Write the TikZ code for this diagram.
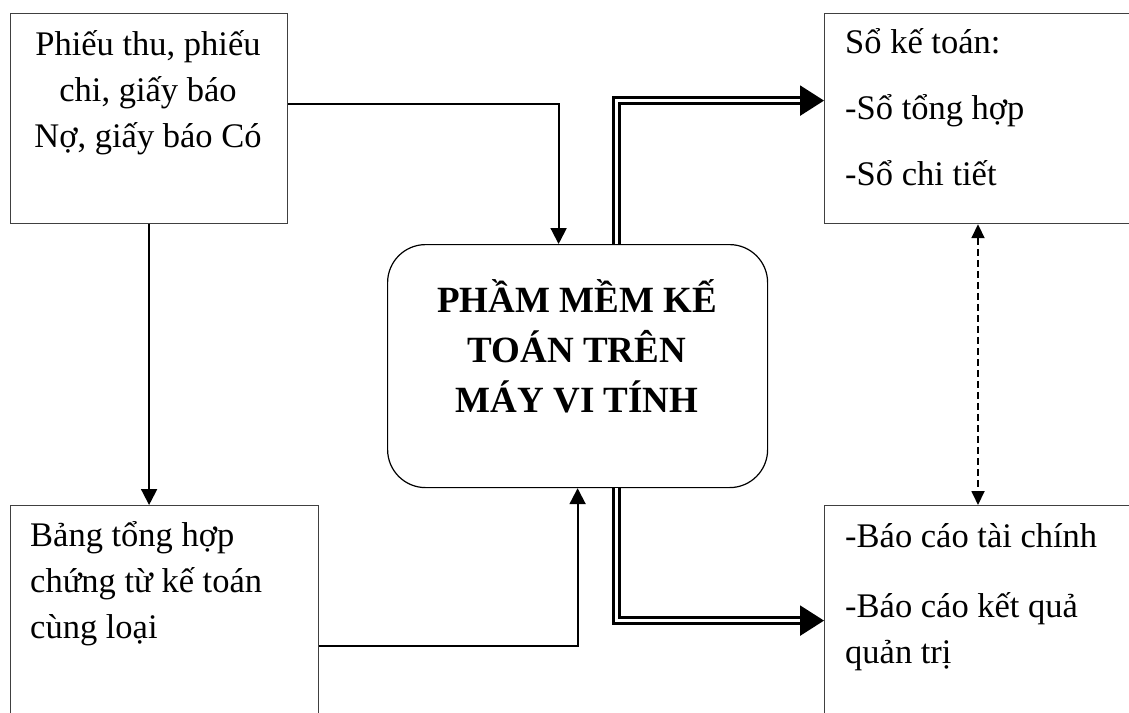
\documentclass[tikz,border=0pt]{standalone}
\usepackage{fontspec}
\setmainfont{Liberation Serif}
\usetikzlibrary{arrows.meta, positioning, calc}

\tikzset{
  box/.style={draw=black!75, line width=1.2pt, inner sep=0pt},
  txt/.style={font=\fontsize{34.5}{46}\selectfont, inner sep=0pt, align=left},
  flow/.style={line width=2pt, -{Triangle[length=16pt,width=16pt]}},
  bigflow/.style={double, double distance=3.5pt, line width=2.5pt, -{Triangle[length=24pt,width=30pt]}},
  link/.style={line width=1.8pt, dash pattern=on 7pt off 4pt, {Triangle[length=14pt,width=13pt]}-{Triangle[length=14pt,width=13pt]}}
}

\begin{document}
\begin{tikzpicture}[x=1pt,y=-1pt]
  \clip (0,0) rectangle (1129,712);

  % Input boxes
  \node[box, anchor=north west, minimum width=277pt, minimum height=210pt] (docs) at (10,13) {};
  \node[box, anchor=north west, minimum width=308pt, minimum height=230pt] (summary) at (10,505) {};

  % Software in the middle
  \node[box, draw=black, rounded corners=38pt, minimum width=380pt, minimum height=243pt, anchor=north west] (soft) at (387,244) {};

  % Output boxes
  \node[box, anchor=north west, minimum width=320pt, minimum height=210pt] (ledger) at (824,13) {};
  \node[box, anchor=north west, minimum width=320pt, minimum height=230pt] (reports) at (824,505) {};

  % Texts (anchored on the baseline of the last line)
  \node[txt, align=center, anchor=base] (docstxt) at (148,147) {Phiếu thu, phiếu\\chi, giấy báo\\Nợ, giấy báo Có};
  \node[txt, anchor=base west] (sumtxt) at (30,638) {Bảng tổng hợp\\chứng từ kế toán\\cùng loại};
  \node[txt, font=\fontsize{37}{50}\selectfont\bfseries, align=center, anchor=base] (softtxt) at (577,412) {PHẦM MỀM KẾ\\TOÁN TRÊN\\MÁY VI TÍNH};
  \node[txt, font=\fontsize{34.5}{66}\selectfont, anchor=base west] (ledgertxt) at (845,185) {Sổ kế toán:\\-Sổ tổng hợp\\-Sổ chi tiết};
  \node[txt, anchor=base west] (reptxt) at (845,663) {-Báo cáo tài chính\\[24pt]-Báo cáo kết quả\\quản trị};

  % Connectors
  \draw[flow] ([yshift=15pt]docs.east) -| ([xshift=-19pt]soft.north);
  \draw[flow] (docs.south) -- (docs.south |- summary.north);
  \draw[flow] ([yshift=-25pt]summary.east) -| (soft.south);
  \draw[bigflow] ([xshift=39pt]soft.north) |- ([yshift=18pt]ledger.west);
  \draw[bigflow] ([xshift=39pt]soft.south) |- (reports.west);
  \draw[link] ([xshift=154pt]ledger.south west) -- ([xshift=154pt]reports.north west);
\end{tikzpicture}
\end{document}
